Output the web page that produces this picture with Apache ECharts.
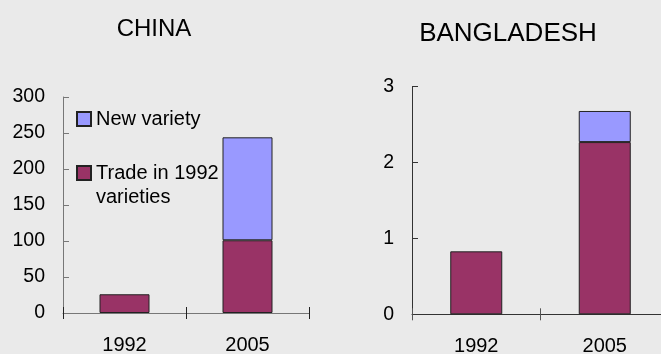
<!DOCTYPE html>
<html>
<head>
<meta charset="utf-8">
<script src="https://cdn.jsdelivr.net/npm/echarts@6/dist/echarts.min.js"></script>
<style>
html,body{margin:0;padding:0;background:#EAEAEA;}
#c{width:661px;height:354px;}
</style>
</head>
<body>
<div id="c"></div>
<script>
var categories = ['1992', '2005'];
var chinaTrade = [26, 101];
var chinaNew = ['-', 143];
var bangTrade = [0.83, 2.27];
var bangNew = ['-', 0.41];
var titles = ['CHINA', 'BANGLADESH'];
var seriesNames = ['Trade in 1992 varieties', 'New variety'];

var FONT = "'Liberation Sans', Arial, sans-serif";
var TRADE = '#993366', NEW = '#9999FF';

function xAxes(gi, lineColor, tickColor) {
  return [
    { type: 'category', gridIndex: gi, data: categories, position: 'bottom',
      axisLine: { show: true, onZero: false, lineStyle: { color: lineColor, width: 1 } },
      axisTick: { show: true, inside: true, length: 6, lineStyle: { color: tickColor, width: 1 } },
      axisLabel: { fontSize: 20, fontFamily: FONT, color: '#000', margin: 22 } },
    { type: 'category', gridIndex: gi, data: categories, position: 'bottom',
      axisLine: { show: true, onZero: false, lineStyle: { color: lineColor, width: 1, opacity: 0 } },
      axisTick: { show: true, inside: false, length: 6, lineStyle: { color: tickColor, width: 1 } },
      axisLabel: { show: false } }
  ];
}
function yAxis(gi, max, interval, lineColor) {
  return { type: 'value', gridIndex: gi, min: 0, max: max, interval: interval,
    axisLine: { show: true, lineStyle: { color: lineColor, width: 1 } },
    axisTick: { show: true, inside: true, length: 6, lineStyle: { color: lineColor, width: 1 } },
    splitLine: { show: false },
    axisLabel: { fontSize: 19.5, fontFamily: FONT, color: '#000', margin: 18 } };
}
function bar(name, data, xi, yi, color, width) {
  return { type: 'bar', name: name, data: data, xAxisIndex: xi, yAxisIndex: yi,
    stack: 's' + yi, barWidth: width, animation: false,
    itemStyle: { color: color, borderColor: '#222', borderWidth: 1 } };
}

var chart = echarts.init(document.getElementById('c'), null, { renderer: 'canvas' });
chart.setOption({
  backgroundColor: '#EAEAEA',
  animation: false,
  title: [
    { text: titles[0], left: 154, top: 17, padding: 0, textAlign: 'center',
      textStyle: { fontSize: 24, fontWeight: 'normal', fontFamily: FONT, color: '#000' } },
    { text: titles[1], left: 508, top: 21, padding: 0, textAlign: 'center',
      textStyle: { fontSize: 26, fontWeight: 'normal', fontFamily: FONT, color: '#000' } }
  ],
  legend: [
    { data: [seriesNames[1]], left: 76, top: 107, padding: 0, orient: 'vertical',
      itemWidth: 14, itemHeight: 14, itemGap: 0, icon: 'rect', selectedMode: false,
      textStyle: { fontSize: 20, fontFamily: FONT, color: '#000', lineHeight: 24 } },
    { data: [seriesNames[0]], left: 76, top: 137, padding: 0, orient: 'vertical',
      itemWidth: 14, itemHeight: 14, itemGap: 0, icon: 'rect', selectedMode: false,
      formatter: function () { return '\nTrade in 1992\nvarieties'; },
      textStyle: { fontSize: 20, fontFamily: FONT, color: '#000', lineHeight: 24 } }
  ],
  grid: [
    { left: 63, top: 97, width: 246, height: 216, containLabel: false, outerBoundsMode: 'none' },
    { left: 412, top: 86.7, width: 257, height: 227.6, containLabel: false, outerBoundsMode: 'none' }
  ],
  xAxis: xAxes(0, '#777', '#222').concat(xAxes(1, '#333', '#555')),
  yAxis: [ yAxis(0, 300, 50, '#777'), yAxis(1, 3, 1, '#333') ],
  series: [
    bar(seriesNames[0], chinaTrade, 0, 0, TRADE, 50),
    bar(seriesNames[1], chinaNew, 0, 0, NEW, 50),
    bar(seriesNames[0], bangTrade, 2, 1, TRADE, 52),
    bar(seriesNames[1], bangNew, 2, 1, NEW, 52)
  ]
});
</script>
</body>
</html>
